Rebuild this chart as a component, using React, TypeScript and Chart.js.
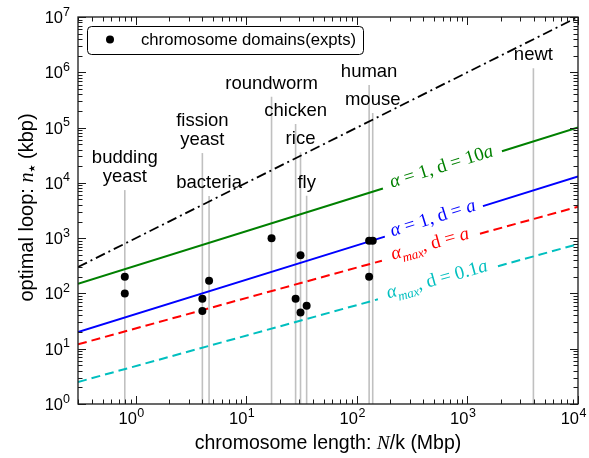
import React, { useEffect, useRef } from "react";
import { Chart, registerables } from "chart.js";

Chart.register(...registerables);

// ---------------- data ----------------
const speciesLabelLines = [
  ["budding", "yeast"],
  ["fission", "yeast"],
  ["bacteria"],
  ["roundworm"],
  ["chicken"],
  ["rice"],
  ["fly"],
  ["human"],
  ["mouse"],
  ["newt"],
];
const speciesLength = [0.795, 4.0, 4.6, 16.9, 27.9, 30.9, 35.1, 129, 139, 3950];
const speciesMarkerTop = [7400, 34600, 5800, 360000, 116000, 35600, 5850, 587000, 183000, 1180000];

const domainLength = [0.795, 0.795, 4.0, 4.0, 4.6, 16.9, 27.9, 30.9, 30.9, 35.1, 129, 129, 139];
const domainLoop = [200, 100, 80, 48, 170, 1000, 80, 490, 45, 60, 900, 200, 900];

const dashDotLength = [0.3, 10000];
const dashDotLoop = [300, 10000000];

const greenLength = [0.3, 171.9, 2051, 10000];
const greenLoop = [150, 7912, 37200, 100000];
const blueLength = [0.3, 179, 1381, 10000];
const blueLoop = [20, 1065, 3796, 13000];
const redLength = [0.3, 168.3, 1298, 10000];
const redLoop = [12, 391, 1202, 3700];
const cyanLength = [0.3, 154.9, 1888, 10000];
const cyanLoop = [2.5, 78.3, 311, 780];

const xTickExponents = [0, 1, 2, 3, 4];
const yTickExponents = [0, 1, 2, 3, 4, 5, 6, 7];

const X_MIN = 0.3;
const X_MAX = 10000;
const Y_MIN = 1;
const Y_MAX = 10000000;

const legendLabel = "chromosome domains(expts)";

// ---------------- styles ----------------
const SANS = '"Liberation Sans", Arial, "DejaVu Sans", sans-serif';
const SERIF = '"Liberation Serif", "Times New Roman", "DejaVu Serif", serif';

type Seg = { text: string; font: string; dy?: number };

const mathMain = `19px ${SERIF}`;
const mathIt = `italic 19px ${SERIF}`;
const mathSub = `italic 13px ${SERIF}`;

const greenLabel: Seg[] = [
  { text: "α", font: mathIt },
  { text: " = 1, d = 10", font: mathMain },
  { text: "a", font: mathIt },
];
const blueLabel: Seg[] = [
  { text: "α", font: mathIt },
  { text: " = 1, d = ", font: mathMain },
  { text: "a", font: mathIt },
];
const redLabel: Seg[] = [
  { text: "α", font: mathIt },
  { text: "max", font: mathSub, dy: 5 },
  { text: ", d = ", font: mathMain },
  { text: "a", font: mathIt },
];
const cyanLabel: Seg[] = [
  { text: "α", font: mathIt },
  { text: "max", font: mathSub, dy: 5 },
  { text: ", d = 0.1", font: mathMain },
  { text: "a", font: mathIt },
];

function richWidth(ctx: CanvasRenderingContext2D, segs: Seg[]) {
  let w = 0;
  for (const s of segs) {
    ctx.font = s.font;
    w += ctx.measureText(s.text).width;
  }
  return w;
}

function drawRich(
  ctx: CanvasRenderingContext2D,
  segs: Seg[],
  x: number,
  y: number,
  align: "left" | "center" | "right"
) {
  const w = richWidth(ctx, segs);
  let cx = align === "center" ? x - w / 2 : align === "right" ? x - w : x;
  ctx.textAlign = "left";
  for (const s of segs) {
    ctx.font = s.font;
    ctx.fillText(s.text, cx, y + (s.dy || 0));
    cx += ctx.measureText(s.text).width;
  }
}

function gapped(xs: number[], ys: number[]) {
  return [
    { x: xs[0], y: ys[0] },
    { x: xs[1], y: ys[1] },
    { x: xs[1], y: null },
    { x: xs[2], y: ys[2] },
    { x: xs[3], y: ys[3] },
  ];
}

const overlayPlugin = {
  id: "overlay",
  afterDatasetsDraw(chart: any) {
    const ctx: CanvasRenderingContext2D = chart.ctx;
    const xs = chart.scales.x;
    const ys = chart.scales.y;
    const { left, right, top, bottom } = chart.chartArea;
    ctx.save();

    // species labels
    ctx.fillStyle = "#000";
    ctx.textBaseline = "alphabetic";
    ctx.textAlign = "center";
    ctx.font = `18.5px ${SANS}`;
    speciesLabelLines.forEach((lines, i) => {
      const px = xs.getPixelForValue(speciesLength[i]);
      const py = ys.getPixelForValue(speciesMarkerTop[i]);
      const n = lines.length;
      lines.forEach((t, k) => {
        ctx.fillText(t, px, py - 8 - (n - 1 - k) * 19.5);
      });
    });

    // inline line labels
    chart.data.datasets.forEach((ds: any, di: number) => {
      if (!ds.labelSegs) return;
      const meta = chart.getDatasetMeta(di);
      const p1 = meta.data[1];
      const p2 = meta.data[3];
      const mx = (p1.x + p2.x) / 2;
      const my = (p1.y + p2.y) / 2;
      const ang = Math.atan2(p2.y - p1.y, p2.x - p1.x);
      ctx.save();
      ctx.translate(mx, my);
      ctx.rotate(ang);
      ctx.fillStyle = ds.borderColor;
      ctx.textBaseline = "alphabetic";
      drawRich(ctx, ds.labelSegs, 0, 2, "center");
      ctx.restore();
    });

    // frame
    ctx.strokeStyle = "#1a1a1a";
    ctx.lineWidth = 1.3;
    ctx.strokeRect(left, top, right - left, bottom - top);

    // ticks
    ctx.lineWidth = 1;
    ctx.beginPath();
    for (let e = -1; e <= 4; e++) {
      for (let m = 1; m <= 9; m++) {
        const v = m * Math.pow(10, e);
        if (v < X_MIN * 0.999 || v > X_MAX * 1.001) continue;
        const len = m === 1 ? 8 : 4.5;
        const px = Math.round(xs.getPixelForValue(v)) + 0.5;
        ctx.moveTo(px, bottom);
        ctx.lineTo(px, bottom - len);
        ctx.moveTo(px, top);
        ctx.lineTo(px, top + len);
      }
    }
    for (let e = 0; e <= 7; e++) {
      for (let m = 1; m <= 9; m++) {
        const v = m * Math.pow(10, e);
        if (v < Y_MIN * 0.999 || v > Y_MAX * 1.001) continue;
        const len = m === 1 ? 8 : 4.5;
        const py = Math.round(ys.getPixelForValue(v)) + 0.5;
        ctx.moveTo(left, py);
        ctx.lineTo(left + len, py);
        ctx.moveTo(right, py);
        ctx.lineTo(right - len, py);
      }
    }
    ctx.stroke();

    // tick labels
    ctx.fillStyle = "#000";
    ctx.textBaseline = "alphabetic";
    const baseFont = `16.5px ${SANS}`;
    const supFont = `12.5px ${SANS}`;
    yTickExponents.forEach((e) => {
      const py = ys.getPixelForValue(Math.pow(10, e));
      ctx.font = supFont;
      const ws = ctx.measureText(String(e)).width;
      ctx.font = baseFont;
      const wb = ctx.measureText("10").width;
      const xr = left - 8;
      ctx.textAlign = "left";
      ctx.fillText("10", xr - ws - wb, py + 6);
      ctx.font = supFont;
      ctx.fillText(String(e), xr - ws, py - 1.5);
    });
    xTickExponents.forEach((e) => {
      const px = xs.getPixelForValue(Math.pow(10, e));
      ctx.font = baseFont;
      const wb = ctx.measureText("10").width;
      ctx.textAlign = "left";
      ctx.fillText("10", px + 1 - wb, bottom + 20);
      ctx.font = supFont;
      ctx.fillText(String(e), px + 1.5, bottom + 12.7);
    });

    // axis titles
    const xTitleSans = `19.5px ${SANS}`;
    const xTitleIt = `italic 19.5px ${SERIF}`;
    drawRich(
      ctx,
      [
        { text: "chromosome length: ", font: xTitleSans },
        { text: "N", font: xTitleIt },
        { text: "/k (Mbp)", font: xTitleSans },
      ],
      (left + right) / 2,
      449,
      "center"
    );
    const yTitleSans = `20px ${SANS}`;
    const yTitleIt = `italic 20px ${SERIF}`;
    ctx.save();
    ctx.translate(33, (top + bottom) / 2 - 3);
    ctx.rotate(-Math.PI / 2);
    drawRich(
      ctx,
      [
        { text: "optimal loop: ", font: yTitleSans },
        { text: "n", font: yTitleIt },
        { text: "★", font: `9px "DejaVu Sans", sans-serif`, dy: 2 },
        { text: " (kbp)", font: yTitleSans },
      ],
      0,
      0,
      "center"
    );
    ctx.restore();

    // legend
    ctx.beginPath();
    (ctx as any).roundRect(87.5, 26.5, 276, 28, 4);
    ctx.fillStyle = "#fff";
    ctx.fill();
    ctx.strokeStyle = "#000";
    ctx.lineWidth = 1;
    ctx.stroke();
    ctx.beginPath();
    ctx.arc(110, 39.5, 4, 0, Math.PI * 2);
    ctx.fillStyle = "#000";
    ctx.fill();
    ctx.font = `16.7px ${SANS}`;
    ctx.textAlign = "left";
    ctx.fillText(legendLabel, 141, 45);

    ctx.restore();
  },
};

export default function App() {
  const ref = useRef<HTMLCanvasElement>(null);
  useEffect(() => {
    const grayLines = speciesLength.map((x, i) => ({
      data: [
        { x, y: Y_MIN },
        { x, y: speciesMarkerTop[i] },
      ],
      borderColor: "#c0c0c0",
      borderWidth: 1.6,
      pointRadius: 0,
      order: 3,
    }));
    const lineBase = { pointRadius: 0, borderWidth: 2, fill: false, tension: 0, spanGaps: false };
    const chart = new Chart(ref.current as HTMLCanvasElement, {
      type: "line",
      data: {
        datasets: [
          {
            label: legendLabel,
            data: domainLength.map((x, i) => ({ x, y: domainLoop[i] })),
            showLine: false,
            pointRadius: 4,
            pointBackgroundColor: "#000",
            pointBorderColor: "#000",
            pointBorderWidth: 0,
            borderColor: "#000",
            order: 0,
          },
          {
            ...lineBase,
            data: dashDotLength.map((x, i) => ({ x, y: dashDotLoop[i] })),
            borderColor: "#000",
            borderWidth: 1.8,
            borderDash: [10, 4, 2, 4],
            order: 1,
          },
          { ...lineBase, data: gapped(greenLength, greenLoop), borderColor: "#008000", labelSegs: greenLabel, order: 1 },
          { ...lineBase, data: gapped(blueLength, blueLoop), borderColor: "#0000ff", labelSegs: blueLabel, order: 1 },
          {
            ...lineBase,
            data: gapped(redLength, redLoop),
            borderColor: "#ff0000",
            borderDash: [9, 5],
            labelSegs: redLabel,
            order: 1,
          },
          {
            ...lineBase,
            data: gapped(cyanLength, cyanLoop),
            borderColor: "#00bfbf",
            borderDash: [9, 5],
            labelSegs: cyanLabel,
            order: 1,
          },
          ...grayLines,
        ] as any,
      },
      options: {
        responsive: false,
        animation: false,
        events: [],
        layout: { padding: { left: 78, right: 11, top: 17, bottom: 54 } },
        plugins: { legend: { display: false }, tooltip: { enabled: false } },
        scales: {
          x: { type: "logarithmic", min: X_MIN, max: X_MAX, display: false },
          y: { type: "logarithmic", min: Y_MIN, max: Y_MAX, display: false },
        },
      } as any,
      plugins: [overlayPlugin],
    });
    return () => chart.destroy();
  }, []);
  return (
    <div style={{ position: "absolute", left: 0, top: 0, width: 589, height: 458, background: "#fff" }}>
      <canvas ref={ref} width={589} height={458} style={{ display: "block" }} />
    </div>
  );
}
